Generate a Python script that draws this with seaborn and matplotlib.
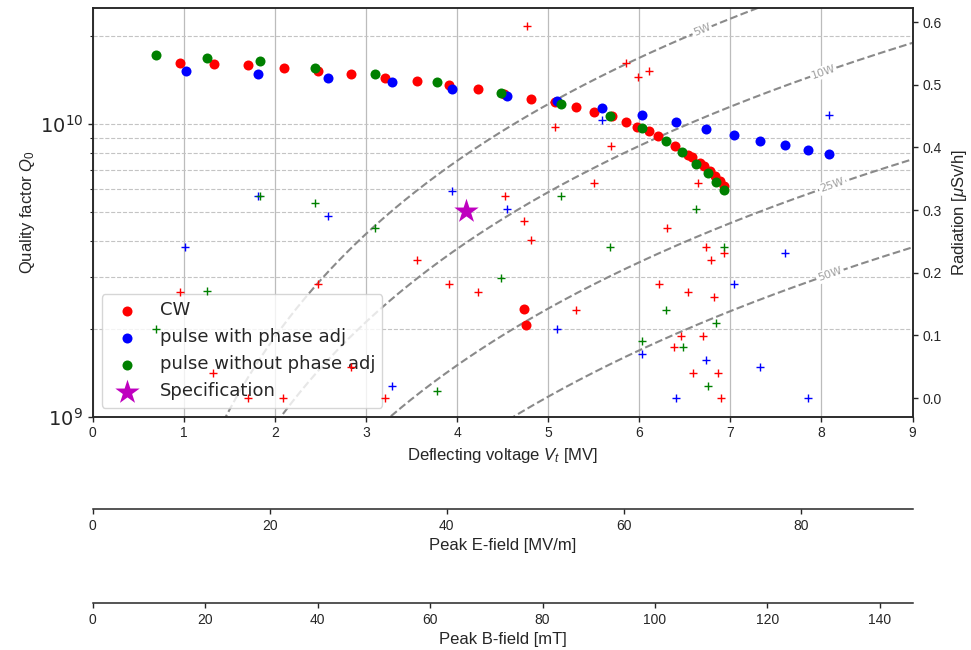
import numpy as np
import matplotlib
matplotlib.use("Agg")
import matplotlib.pyplot as plt
import seaborn as sns
from matplotlib.ticker import NullFormatter, LogLocator

# ---------------- data ----------------
cw_v = [0.958, 1.33, 1.71, 2.10, 2.47, 2.835, 3.21, 3.556, 3.91, 4.23, 4.515, 4.74, 4.76,
        4.81, 5.07, 5.305, 5.50, 5.70, 5.85, 5.98, 6.11, 6.21, 6.39, 6.53, 6.58, 6.67,
        6.71, 6.78, 6.83, 6.89, 6.93]
cw_q = [1.62e10, 1.61e10, 1.59e10, 1.56e10, 1.52e10, 1.49e10, 1.44e10, 1.40e10, 1.36e10,
        1.32e10, 1.27e10, 2.34e9, 2.06e9, 1.22e10, 1.19e10, 1.146e10, 1.10e10, 1.067e10,
        1.018e10, 9.8e9, 9.46e9, 9.12e9, 8.39e9, 7.86e9, 7.75e9, 7.36e9, 7.2e9, 6.94e9,
        6.66e9, 6.37e9, 6.16e9]

pa_v = [1.02, 1.82, 2.58, 3.285, 3.944, 4.55, 5.10, 5.59, 6.03, 6.40, 6.73, 7.04, 7.33,
        7.60, 7.85, 8.085]
pa_q = [1.52e10, 1.48e10, 1.44e10, 1.39e10, 1.32e10, 1.25e10, 1.20e10, 1.14e10, 1.076e10,
        1.016e10, 9.64e9, 9.22e9, 8.79e9, 8.48e9, 8.17e9, 7.88e9]

pn_v = [0.695, 1.255, 1.84, 2.44, 3.10, 3.78, 4.485, 5.14, 5.675, 6.03, 6.29, 6.47, 6.62,
        6.75, 6.84, 6.93]
pn_q = [1.73e10, 1.68e10, 1.64e10, 1.56e10, 1.48e10, 1.39e10, 1.28e10, 1.175e10, 1.067e10,
        9.74e9, 8.79e9, 8.02e9, 7.32e9, 6.8e9, 6.34e9, 5.97e9]

spec_v = [4.10]
spec_q = [5.03e9]

# radiation (right axis)
cw_rad_v = [0.958, 1.32, 1.71, 2.09, 2.47, 2.84, 3.21, 3.556, 3.91, 4.23, 4.526, 4.74,
            4.765, 4.81, 5.075, 5.305, 5.505, 5.69, 5.854, 5.99, 6.11, 6.216, 6.30, 6.38,
            6.46, 6.53, 6.59, 6.64, 6.70, 6.73, 6.79, 6.82, 6.86, 6.90, 6.93]
cw_rad = [0.170, 0.040, 0.0, 0.0, 0.182, 0.050, 0.0, 0.220, 0.182, 0.170, 0.323, 0.282,
          0.593, 0.252, 0.432, 0.1406, 0.343, 0.403, 0.534, 0.513, 0.522, 0.182, 0.272,
          0.0815, 0.0995, 0.170, 0.040, 0.343, 0.0995, 0.241, 0.220, 0.161, 0.040, 0.0,
          0.231]

pa_rad_v = [1.017, 1.82, 2.58, 3.285, 3.944, 4.55, 5.10, 5.59, 6.03, 6.40, 6.73, 7.04,
            7.33, 7.60, 7.85, 8.085]
pa_rad = [0.241, 0.322, 0.291, 0.020, 0.331, 0.302, 0.111, 0.443, 0.070, 0.0, 0.061,
          0.182, 0.050, 0.231, 0.0, 0.451]

pn_rad_v = [0.695, 1.255, 1.84, 2.44, 3.10, 3.78, 4.485, 5.14, 5.675, 6.03, 6.29, 6.475,
            6.62, 6.75, 6.845, 6.93]
pn_rad = [0.111, 0.171, 0.322, 0.311, 0.272, 0.011, 0.191, 0.323, 0.241, 0.091, 0.1406,
          0.0815, 0.302, 0.020, 0.120, 0.241]

# constant-power curves
powers = [5, 10, 25, 50]
power_labels = ["5W", "10W", "25W", "50W"]
power_label_v = [6.69, 8.02, 8.12, 8.10]
r_over_q = 427.0  # Ohm

e_ticks = [0, 20, 40, 60, 80]
b_ticks = [0, 20, 40, 60, 80, 100, 120, 140]
e_per_mv = 10.29   # MV/m per MV
b_per_mv = 16.2    # mT per MV

# ---------------- style ----------------
sns.set_theme(style="ticks")
plt.rcParams['font.family'] = ['Liberation Sans', 'DejaVu Sans']
plt.rcParams['mathtext.fontset'] = 'custom'
plt.rcParams['mathtext.rm'] = 'Liberation Sans'
plt.rcParams['mathtext.it'] = 'Liberation Sans:italic'
plt.rcParams['mathtext.bf'] = 'Liberation Sans:bold'
plt.rcParams['axes.edgecolor'] = '#262626'
plt.rcParams['axes.linewidth'] = 1.1

fig = plt.figure(figsize=(9.71, 6.5), dpi=100)
L, W = 92.7 / 971, (912.5 - 92.7) / 971
ax = fig.add_axes([L, 1 - 416.7 / 650, W, (416.7 - 8.3) / 650])
ax.set_yscale('log')
ax.set_xlim(0, 9)
ax.set_ylim(1e9, 2.49e10)
ax.set_axisbelow(True)

ax.grid(axis='x', which='major', color='#bcbcbc', lw=0.9, ls='-')
ax.grid(axis='y', which='both', color='#c4c4c4', lw=0.8, ls='--')

# power curves
vv = np.linspace(0.05, 9, 400)
for p in powers:
    ax.plot(vv, (vv * 1e6) ** 2 / (r_over_q * p), ls='--', color='#8a8a8a', lw=1.5,
            zorder=2)

ms = 52
sns.scatterplot(x=cw_v, y=cw_q, color='#ff0000', s=ms, linewidth=0, label='CW', ax=ax, zorder=3)
sns.scatterplot(x=pa_v, y=pa_q, color='#0000ff', s=ms, linewidth=0,
                label='pulse with phase adj', ax=ax, zorder=3)
sns.scatterplot(x=pn_v, y=pn_q, color='#008000', s=ms, linewidth=0,
                label='pulse without phase adj', ax=ax, zorder=3)
sns.scatterplot(x=spec_v, y=spec_q, color='#bf00bf', marker='*', s=340, linewidth=0,
                label='Specification', ax=ax, zorder=4)

ax.set_xlim(0, 9)
ax.set_ylim(1e9, 2.49e10)
ax.yaxis.set_major_locator(LogLocator(base=10))
ax.yaxis.set_minor_locator(LogLocator(base=10, subs=np.arange(2, 10)))
ax.yaxis.set_minor_formatter(NullFormatter())
ax.set_xticks(range(0, 10))

# power curve labels
for p, lab, vl in zip(powers, power_labels, power_label_v):
    q0 = (vl * 1e6) ** 2 / (r_over_q * p)
    pa = ax.transData.transform(((vl - 0.1), ((vl - 0.1) * 1e6) ** 2 / (r_over_q * p)))
    pb = ax.transData.transform(((vl + 0.1), ((vl + 0.1) * 1e6) ** 2 / (r_over_q * p)))
    ang = np.degrees(np.arctan2(pb[1] - pa[1], pb[0] - pa[0]))
    ax.text(vl, q0, lab, rotation=ang, rotation_mode='anchor', ha='center', va='center',
            fontsize=8, color='#a0a0a0', family='DejaVu Sans',
            bbox=dict(fc='white', ec='none', pad=1.0), zorder=2.5)

ax.tick_params(axis='y', which='major', labelsize=14, labelfontfamily='DejaVu Sans',
               length=3.5, width=1, direction='out', left=True)
ax.tick_params(axis='y', which='minor', length=2, width=0.8, left=True)
ax.tick_params(axis='x', labelsize=10, length=3.5, width=1, direction='out', bottom=True)
ax.set_xlabel('Deflecting voltage $V_t$ [MV]', fontsize=12, labelpad=4)
ax.set_ylabel('Quality factor $Q_0$', fontsize=12, labelpad=2)

leg = ax.legend(loc='lower left', prop={'family': 'DejaVu Sans', 'size': 13},
                frameon=True, framealpha=0.8, edgecolor='#cccccc', fancybox=True,
                labelspacing=0.5, borderpad=0.4)

# radiation axis
ax2 = ax.twinx()
sns.scatterplot(x=cw_rad_v, y=cw_rad, color='#ff0000', marker='+', s=40, linewidth=1.0, ax=ax2)
sns.scatterplot(x=pa_rad_v, y=pa_rad, color='#0000ff', marker='+', s=40, linewidth=1.0, ax=ax2)
sns.scatterplot(x=pn_rad_v, y=pn_rad, color='#008000', marker='+', s=40, linewidth=1.0, ax=ax2)
if ax2.get_legend() is not None:
    ax2.get_legend().remove()
ax2.set_xlim(0, 9)
ax2.set_ylim(-0.0296, 0.622)
ax2.set_yticks([0.0, 0.1, 0.2, 0.3, 0.4, 0.5, 0.6])
ax2.tick_params(axis='y', labelsize=10, length=3.5, width=1, direction='out', right=True)
ax2.set_ylabel('Radiation [$\\mu$Sv/h]', fontsize=12, labelpad=6)

# Peak E-field axis
ax_e = fig.add_axes([L, 1 - 509 / 650, W, 1e-5])
ax_e.set_facecolor('none')
for s in ['top', 'left', 'right']:
    ax_e.spines[s].set_visible(False)
ax_e.set_yticks([])
ax_e.set_xlim(0, 9 * e_per_mv)
ax_e.set_xticks(e_ticks)
ax_e.tick_params(axis='x', labelsize=10, length=3.5, width=1, direction='out')
ax_e.set_xlabel('Peak E-field [MV/m]', fontsize=12, labelpad=4)

# Peak B-field axis
ax_b = fig.add_axes([L, 1 - 603 / 650, W, 1e-5])
ax_b.set_facecolor('none')
for s in ['top', 'left', 'right']:
    ax_b.spines[s].set_visible(False)
ax_b.set_yticks([])
ax_b.set_xlim(0, 9 * b_per_mv)
ax_b.set_xticks(b_ticks)
ax_b.tick_params(axis='x', labelsize=10, length=3.5, width=1, direction='out')
ax_b.set_xlabel('Peak B-field [mT]', fontsize=12, labelpad=4)

fig.savefig('out.png', dpi=100)
